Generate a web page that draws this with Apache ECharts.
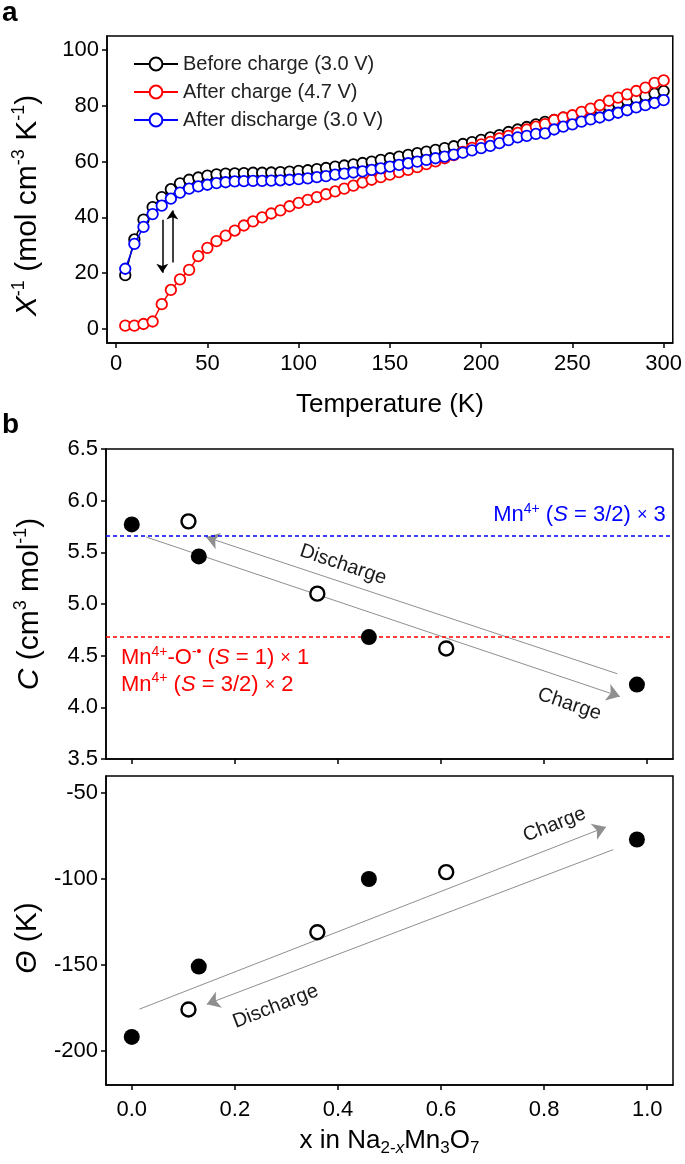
<!DOCTYPE html>
<html><head><meta charset="utf-8">
<script src="https://cdn.jsdelivr.net/npm/echarts@6/dist/echarts.min.js"></script>
<style>html,body{margin:0;padding:0;background:#fff}#c{width:685px;height:1164px}</style>
</head><body><div id="c"></div>
<script>
// ---------- Panel a data ----------
const temperature = [5,10,15,20,25,30,35,40,45,50,55,60,65,70,75,80,85,90,95,100,
  105,110,115,120,125,130,135,140,145,150,155,160,165,170,175,180,185,190,195,200,
  205,210,215,220,225,230,235,240,245,250,255,260,265,270,275,280,285,290,295,300];
const beforeCharge = [19.3,32.1,39.2,43.7,47.3,50.1,52.2,53.5,54.3,55.0,55.4,55.7,55.8,55.9,56.0,56.0,56.1,56.2,56.4,56.7,
  56.9,57.3,57.7,58.2,58.6,59.0,59.5,60.0,60.6,61.2,61.8,62.4,63.0,63.6,64.2,64.8,65.5,66.3,67.0,67.8,
  68.7,69.5,70.6,71.5,72.4,73.3,74.2,74.9,75.7,76.3,77.2,78.1,79.0,79.9,80.8,81.8,82.6,83.5,84.4,85.3];
const afterCharge = [1.2,1.2,1.8,2.7,8.9,14.0,17.8,21.2,26.1,29.1,31.5,33.5,35.3,37.1,38.6,40.0,41.4,42.5,44.0,45.2,
  46.3,47.3,48.3,49.3,50.3,51.4,52.5,53.5,54.4,55.3,56.2,57.0,58.0,59.1,60.1,61.2,62.3,63.5,64.9,66.2,
  67.1,68.3,69.2,70.3,71.5,72.5,73.4,74.9,75.8,76.6,77.8,79.0,80.2,81.8,82.9,84.1,85.3,86.5,88.2,89.1];
const afterDischarge = [21.6,30.5,36.6,41.2,44.2,46.7,48.9,50.3,51.1,51.7,52.3,52.6,52.9,53.0,53.1,53.1,53.2,53.3,53.5,53.7,
  54.0,54.4,54.8,55.3,55.7,56.1,56.5,57.0,57.6,58.2,58.8,59.4,60.0,60.6,61.2,61.8,62.5,63.2,64.0,64.8,
  65.6,66.6,67.7,68.7,69.2,69.9,70.1,71.5,72.5,73.3,74.3,75.1,75.8,76.6,77.5,78.4,79.4,80.2,81.0,82.0];
const seriesNamesA = ['Before charge (3.0 V)','After charge (4.7 V)','After discharge (3.0 V)'];
const tickTemp = [0,50,100,150,200,250,300];
const tickChiInv = [0,20,40,60,80,100];
// arrows in panel a: [x1,y1,x2,y2]
const arrowsA = [[25.3,39.2,25.3,20.2],[30.8,23.8,30.8,42.5]];

// ---------- Panel b data ----------
const xFilled = [0.0, 0.13, 0.46, 0.98];
const cFilled = [5.77, 5.46, 4.68, 4.22];
const thetaFilled = [-192, -151, -100, -77];
const xOpen = [0.11, 0.36, 0.61];
const cOpen = [5.80, 5.10, 4.57];
const thetaOpen = [-176, -131, -96];
const cLevelMn3 = 5.66;   // Mn4+ (S=3/2) x 3
const cLevelMnO = 4.68;   // Mn4+-O (S=1) x1 + Mn4+ (S=3/2) x2
const tickX = [0,0.2,0.4,0.6,0.8,1.0];
const tickC = [3.5,4.0,4.5,5.0,5.5,6.0,6.5];
const tickTheta = [-200,-150,-100,-50];
const arrowsC = [[0.028,5.648,0.947,4.105],[0.942,4.325,0.144,5.648]];
const arrowsTheta = [[0.015,-175.8,0.920,-69.7],[0.934,-82.9,0.1455,-172.9]];

const FONT = '"Liberation Sans", Arial, Helvetica, sans-serif';

function axisCommon(extra) {
  return Object.assign({
    axisLine: {show: true, onZero: false, lineStyle: {color: '#000', width: 1.5}},
    axisTick: {show: true, inside: false, length: 5, lineStyle: {color: '#000', width: 1.5}},
    axisLabel: {color: '#000', fontSize: 22, fontFamily: FONT},
    splitLine: {show: false}
  }, extra);
}

const richMain = {
  n: {fontSize: 26, fontFamily: FONT, color: '#000', lineHeight: 32},
  i: {fontSize: 26, fontFamily: FONT, color: '#000', fontStyle: 'italic', lineHeight: 32},
  sup: {fontSize: 16, fontFamily: FONT, color: '#000', verticalAlign: 'top', lineHeight: 16},
  sub: {fontSize: 17, fontFamily: FONT, color: '#000', verticalAlign: 'bottom', lineHeight: 17},
  subi: {fontSize: 17, fontFamily: FONT, color: '#000', fontStyle: 'italic', verticalAlign: 'bottom', lineHeight: 17}
};
const richY = {
  n: {fontSize: 30, fontFamily: FONT, color: '#000', lineHeight: 36},
  i: {fontSize: 30, fontFamily: FONT, color: '#000', fontStyle: 'italic', lineHeight: 36},
  sup: {fontSize: 18, fontFamily: FONT, color: '#000', verticalAlign: 'top', lineHeight: 18}
};

function annRich(color, size) {
  return {
    n: {fontSize: size, fontFamily: FONT, color: color, lineHeight: size + 4},
    it: {fontSize: size, fontFamily: FONT, color: color, fontStyle: 'italic', lineHeight: size + 4},
    x: {fontSize: size - 4, fontFamily: FONT, color: color, lineHeight: size + 4},
    sup: {fontSize: Math.round(size * 0.62), fontFamily: FONT, color: color, verticalAlign: 'top', lineHeight: Math.round(size * 0.62)}
  };
}

const colorsA = ['#000000', '#ff0000', '#0000ff'];
const dataA = [beforeCharge, afterCharge, afterDischarge];

const seriesA = dataA.map((arr, k) => ({
  type: 'line', name: seriesNamesA[k], xAxisIndex: 0, yAxisIndex: 0,
  data: temperature.map((t, i) => [t, arr[i]]),
  symbol: 'circle', symbolSize: 10.5, showAllSymbol: true,
  color: colorsA[k],
  lineStyle: {color: colorsA[k], width: 1.5},
  itemStyle: {color: '#fff', borderColor: colorsA[k], borderWidth: 1.8, opacity: 1},
  emphasis: {disabled: true}, z: 3 + k
}));

function arrowSeries(list, xi, yi, color, width, size) {
  return {
    type: 'lines', coordinateSystem: 'cartesian2d', xAxisIndex: xi, yAxisIndex: yi,
    symbol: ['none', 'arrow'], symbolSize: size, silent: true,
    lineStyle: {color: color, width: width, opacity: 1},
    data: list.map(a => ({coords: [[a[0], a[1]], [a[2], a[3]]]})), z: 2
  };
}

function textSeries(xi, yi, items) {
  return {
    type: 'scatter', xAxisIndex: xi, yAxisIndex: yi, symbolSize: 1, silent: true,
    itemStyle: {color: 'rgba(0,0,0,0)'}, z: 6,
    data: items.map(it => ({
      value: it.pos,
      label: {show: true, position: 'inside', formatter: it.text,
        align: it.align || 'center', verticalAlign: 'middle', rotate: it.rotate || 0,
        fontSize: it.size || 20, fontFamily: FONT, color: it.color || '#1a1a1a', opacity: 1,
        rich: annRich(it.color || '#1a1a1a', it.size || 20)}
    }))
  };
}

function scatterPair(xi, yi, yFilled, yOpen, withMarks) {
  const filled = {
    type: 'scatter', xAxisIndex: xi, yAxisIndex: yi, symbol: 'circle', symbolSize: 16,
    itemStyle: {color: '#000', opacity: 1}, data: xFilled.map((x, i) => [x, yFilled[i]]), z: 5
  };
  const open = {
    type: 'scatter', xAxisIndex: xi, yAxisIndex: yi, symbol: 'circle', symbolSize: 14,
    itemStyle: {color: '#fff', borderColor: '#000', borderWidth: 2.4, opacity: 1}, data: xOpen.map((x, i) => [x, yOpen[i]]), z: 5
  };
  if (withMarks) {
    filled.markLine = {
      silent: true, symbol: 'none', label: {show: false},
      data: [
        {yAxis: cLevelMn3, lineStyle: {color: '#0000ff', type: [4, 3], width: 1.5}},
        {yAxis: cLevelMnO, lineStyle: {color: '#ff0000', type: [4, 3], width: 1.5}}
      ]
    };
  }
  return [filled, open];
}

const option = {
  animation: false,
  backgroundColor: '#fff',
  textStyle: {fontFamily: FONT},
  grid: [
    {left: 107, top: 36, width: 567, height: 307, show: true, borderColor: '#000', borderWidth: 1.5, containLabel: false},
    {left: 106, top: 449, width: 567, height: 310, show: true, borderColor: '#000', borderWidth: 1.5, containLabel: false},
    {left: 106, top: 776, width: 567, height: 309, show: true, borderColor: '#000', borderWidth: 1.5, containLabel: false}
  ],
  legend: {
    data: seriesNamesA, orient: 'vertical', left: 128, top: 49,
    itemWidth: 44, itemHeight: 16, itemGap: 8,
    textStyle: {fontSize: 20, fontFamily: FONT, color: '#222', lineHeight: 20},
    selectedMode: false
  },
  xAxis: [
    axisCommon({gridIndex: 0, type: 'value', min: -5, max: 305,
      axisTick: {show: true, length: 5, customValues: tickTemp, lineStyle: {color: '#000', width: 1.5}},
      axisLabel: {color: '#000', fontSize: 22, fontFamily: FONT, margin: 10, customValues: tickTemp},
      name: 'Temperature (K)', nameLocation: 'middle', nameGap: 49,
      nameTextStyle: {fontSize: 26, fontFamily: FONT, color: '#000'}}),
    axisCommon({gridIndex: 1, type: 'value', min: -0.05, max: 1.05,
      axisTick: {show: true, length: 5, customValues: tickX, lineStyle: {color: '#000', width: 1.5}},
      axisLabel: {show: false}}),
    axisCommon({gridIndex: 2, type: 'value', min: -0.05, max: 1.05,
      axisTick: {show: true, length: 5, customValues: tickX, lineStyle: {color: '#000', width: 1.5}},
      axisLabel: {color: '#000', fontSize: 22, fontFamily: FONT, margin: 14, customValues: tickX,
        formatter: v => v.toFixed(1)},
      name: '{n|x in Na}{sub|2-}{subi|x}{n|Mn}{sub|3}{n|O}{sub|7}', nameLocation: 'middle', nameGap: 40,
      nameTextStyle: {rich: richMain}})
  ],
  yAxis: [
    axisCommon({gridIndex: 0, type: 'value', min: -5, max: 105,
      axisTick: {show: true, length: 5, customValues: tickChiInv, lineStyle: {color: '#000', width: 1.5}},
      axisLabel: {color: '#000', fontSize: 22, fontFamily: FONT, margin: 8, customValues: tickChiInv},
      name: '{i|X}{sup|-1}{n| (mol cm}{sup|-3}{n| K}{sup|-1}{n|)}', nameLocation: 'middle', nameGap: 61, nameRotate: 90,
      nameTextStyle: {rich: richY, padding: [0, 32, 0, 0]}}),
    axisCommon({gridIndex: 1, type: 'value', min: 3.5, max: 6.5, interval: 0.5,
      axisTick: {show: true, length: 5, customValues: tickC, lineStyle: {color: '#000', width: 1.5}},
      axisLabel: {color: '#000', fontSize: 22, fontFamily: FONT, margin: 8, customValues: tickC,
        formatter: v => v.toFixed(1)},
      name: '{i|C}{n| (cm}{sup|3}{n| mol}{sup|-1}{n|)}', nameLocation: 'middle', nameGap: 58, nameRotate: 90,
      nameTextStyle: {rich: richY}}),
    axisCommon({gridIndex: 2, type: 'value', min: -220, max: -40,
      axisTick: {show: true, length: 5, customValues: tickTheta, lineStyle: {color: '#000', width: 1.5}},
      axisLabel: {color: '#000', fontSize: 22, fontFamily: FONT, margin: 8, customValues: tickTheta},
      name: '{i|Θ}{n| (K)}', nameLocation: 'middle', nameGap: 58, nameRotate: 90,
      nameTextStyle: {rich: richY, padding: [0, 15, 0, 0]}})
  ],
  graphic: [
    {type: 'text', left: 2, top: -1, style: {text: 'a', font: 'bold 28px ' + FONT, fill: '#000'}},
    {type: 'text', left: 2, top: 411, style: {text: 'b', font: 'bold 28px ' + FONT, fill: '#000'}}
  ],
  series: [
    ...seriesA,
    arrowSeries(arrowsA, 0, 0, '#000', 1.5, 9),
    ...scatterPair(1, 1, cFilled, cOpen, true),
    ...scatterPair(2, 2, thetaFilled, thetaOpen, false),
    arrowSeries(arrowsC, 1, 1, '#8f8f8f', 1, 13),
    arrowSeries(arrowsTheta, 2, 2, '#8f8f8f', 1, 13),
    textSeries(1, 1, [
      {pos: [0.41, 5.38], text: 'Discharge', rotate: -18.6},
      {pos: [0.849, 4.03], text: 'Charge', rotate: -18.6},
      {pos: [1.036, 5.864], text: '{n|Mn}{sup|4+}{n| (}{it|S}{n| = 3/2) }{x|×}{n| 3}', align: 'right', color: '#0000ff', size: 22},
      {pos: [-0.021, 4.48], text: '{n|Mn}{sup|4+}{n|-O}{sup|-•}{n| (}{it|S}{n| = 1) }{x|×}{n| 1}', align: 'left', color: '#ff0000', size: 22},
      {pos: [-0.021, 4.22], text: '{n|Mn}{sup|4+}{n| (}{it|S}{n| = 3/2) }{x|×}{n| 2}', align: 'left', color: '#ff0000', size: 22}
    ]),
    textSeries(2, 2, [
      {pos: [0.82, -68.4], text: 'Charge', rotate: 21.3},
      {pos: [0.279, -174.3], text: 'Discharge', rotate: 21.3}
    ])
  ]
};

const chart = echarts.init(document.getElementById('c'), null, {renderer: 'canvas'});
chart.setOption(option);
</script></body></html>
